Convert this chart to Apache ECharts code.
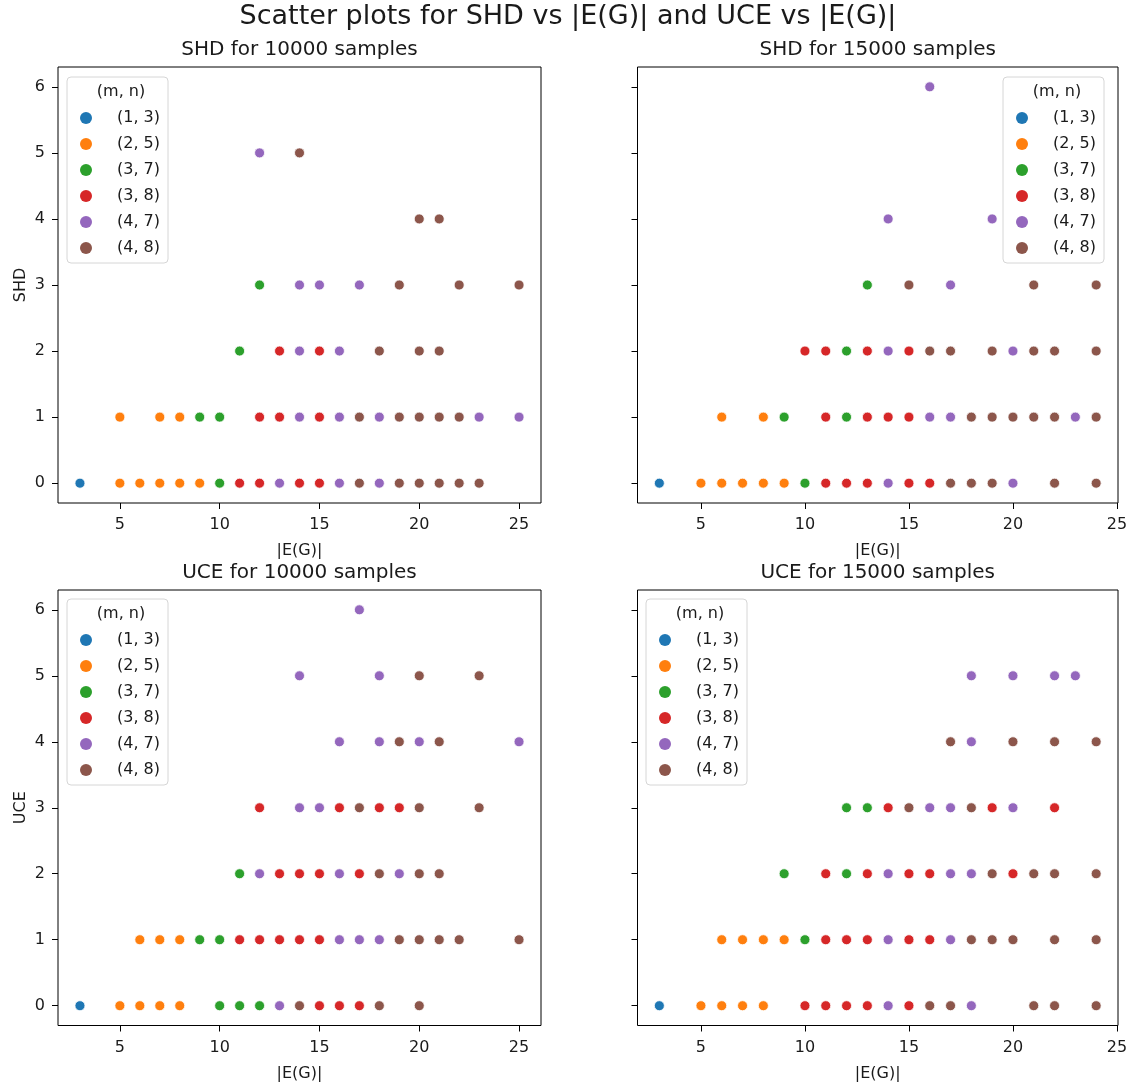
<!DOCTYPE html>
<html><head><meta charset="utf-8">
<script src="https://cdn.jsdelivr.net/npm/echarts@6/dist/echarts.min.js"></script>
<style>html,body{margin:0;padding:0;background:#fff}#c{width:1136px;height:1087px}</style>
</head><body><div id="c"></div>
<script>
// groups (m, n) and their colours
const groups = ['(1, 3)', '(2, 5)', '(3, 7)', '(3, 8)', '(4, 7)', '(4, 8)'];
const colors = ['#1f77b4', '#ff7f0e', '#2ca02c', '#d62728', '#9467bd', '#8c564b'];
const xTicks = [5, 10, 15, 20, 25];
const yTicks = [0, 1, 2, 3, 4, 5, 6];

// points: [|E(G)|, value, group index]
const shd10000 = [
  [3,0,0],[5,0,1],[6,0,1],[7,0,1],[8,0,1],[9,0,1],[10,0,2],[11,0,3],[12,0,3],[13,0,4],[14,0,3],[15,0,3],[16,0,4],[17,0,5],[18,0,4],[19,0,5],[20,0,5],[21,0,5],[22,0,5],[23,0,5],
  [5,1,1],[7,1,1],[8,1,1],[9,1,2],[10,1,2],[12,1,3],[13,1,3],[14,1,4],[15,1,3],[16,1,4],[17,1,5],[18,1,4],[19,1,5],[20,1,5],[21,1,5],[22,1,5],[23,1,4],[25,1,4],
  [11,2,2],[13,2,3],[14,2,4],[15,2,3],[16,2,4],[18,2,5],[20,2,5],[21,2,5],
  [12,3,2],[14,3,4],[15,3,4],[17,3,4],[19,3,5],[22,3,5],[25,3,5],
  [20,4,5],[21,4,5],
  [12,5,4],[14,5,5]
];
const shd15000 = [
  [3,0,0],[5,0,1],[6,0,1],[7,0,1],[8,0,1],[9,0,1],[10,0,2],[11,0,3],[12,0,3],[13,0,3],[14,0,4],[15,0,3],[16,0,3],[17,0,5],[18,0,5],[19,0,5],[20,0,4],[22,0,5],[24,0,5],
  [6,1,1],[8,1,1],[9,1,2],[11,1,3],[12,1,2],[13,1,3],[14,1,3],[15,1,3],[16,1,4],[17,1,4],[18,1,5],[19,1,5],[20,1,5],[21,1,5],[22,1,5],[23,1,4],[24,1,5],
  [10,2,3],[11,2,3],[12,2,2],[13,2,3],[14,2,4],[15,2,3],[16,2,5],[17,2,5],[19,2,5],[20,2,4],[21,2,5],[22,2,5],[24,2,5],
  [13,3,2],[15,3,5],[17,3,4],[21,3,5],[24,3,5],
  [14,4,4],[19,4,4],
  [16,6,4]
];
const uce10000 = [
  [3,0,0],[5,0,1],[6,0,1],[7,0,1],[8,0,1],[10,0,2],[11,0,2],[12,0,2],[13,0,4],[14,0,5],[15,0,3],[16,0,3],[17,0,3],[18,0,5],[20,0,5],
  [6,1,1],[7,1,1],[8,1,1],[9,1,2],[10,1,2],[11,1,3],[12,1,3],[13,1,3],[14,1,3],[15,1,3],[16,1,4],[17,1,4],[18,1,4],[19,1,5],[20,1,5],[21,1,5],[22,1,5],[25,1,5],
  [11,2,2],[12,2,4],[13,2,3],[14,2,3],[15,2,3],[16,2,4],[17,2,3],[18,2,5],[19,2,4],[20,2,5],[21,2,5],
  [12,3,3],[14,3,4],[15,3,4],[16,3,3],[17,3,5],[18,3,3],[19,3,3],[20,3,5],[23,3,5],
  [16,4,4],[18,4,4],[19,4,5],[20,4,4],[21,4,5],[25,4,4],
  [14,5,4],[18,5,4],[20,5,5],[23,5,5],
  [17,6,4]
];
const uce15000 = [
  [3,0,0],[5,0,1],[6,0,1],[7,0,1],[8,0,1],[10,0,3],[11,0,3],[12,0,3],[13,0,3],[14,0,4],[15,0,3],[16,0,5],[17,0,5],[18,0,4],[21,0,5],[22,0,5],[24,0,5],
  [6,1,1],[7,1,1],[8,1,1],[9,1,1],[10,1,2],[11,1,3],[12,1,3],[13,1,3],[14,1,4],[15,1,3],[16,1,3],[17,1,4],[18,1,5],[19,1,5],[20,1,5],[22,1,5],[24,1,5],
  [9,2,2],[11,2,3],[12,2,2],[13,2,3],[14,2,4],[15,2,3],[16,2,3],[17,2,4],[18,2,4],[19,2,5],[20,2,3],[21,2,5],[22,2,5],[24,2,5],
  [12,3,2],[13,3,2],[14,3,3],[15,3,5],[16,3,4],[17,3,4],[18,3,5],[19,3,3],[20,3,4],[22,3,3],
  [17,4,5],[18,4,4],[20,4,5],[22,4,5],[24,4,5],
  [18,5,4],[20,5,4],[22,5,4],[23,5,4]
];

const panels = [
  { data: shd10000, title: 'SHD for 10000 samples', yName: 'SHD' },
  { data: shd15000, title: 'SHD for 15000 samples', yName: '' },
  { data: uce10000, title: 'UCE for 10000 samples', yName: 'UCE' },
  { data: uce15000, title: 'UCE for 15000 samples', yName: '' }
];

const FONT = 'DejaVu Sans';
const TXT = '#1a1a1a';
const grids = [
  { left: 58, top: 67, width: 483, height: 436 },
  { left: 637.5, top: 67, width: 480.5, height: 436 },
  { left: 58, top: 590, width: 483, height: 435.5 },
  { left: 637.5, top: 590, width: 480.5, height: 435.5 }
];
const xRange = [[1.9, 26.1], [1.95, 25.05], [1.9, 26.1], [1.95, 25.05]];
const legendPos = [
  { left: 67, top: 77 }, { left: 1003, top: 77 }, { left: 67, top: 599 }, { left: 646, top: 599 }
];

const option = {
  backgroundColor: '#fff',
  animation: false,
  grid: grids.map(g => Object.assign({ show: true, borderColor: '#000', borderWidth: 1, backgroundColor: 'transparent', containLabel: false }, g)),
  xAxis: panels.map((p, i) => ({
    type: 'value', gridIndex: i, min: xRange[i][0], max: xRange[i][1],
    name: '|E(G)|', nameLocation: 'middle', nameGap: 40,
    nameTextStyle: { fontFamily: FONT, fontSize: 16, color: TXT },
    axisLine: { show: false, onZero: false },
    axisTick: { show: true, length: 6, lineStyle: { color: '#000', width: 1 }, customValues: xTicks },
    axisLabel: { show: true, margin: 14, fontFamily: FONT, fontSize: 16, color: TXT, customValues: xTicks },
    splitLine: { show: false }
  })),
  yAxis: panels.map((p, i) => ({
    type: 'value', gridIndex: i, min: -0.3, max: 6.3,
    name: p.yName, nameLocation: 'middle', nameGap: 29,
    nameTextStyle: { fontFamily: FONT, fontSize: 16, color: TXT },
    axisLine: { show: false, onZero: false },
    axisTick: { show: true, length: 6, lineStyle: { color: '#000', width: 1 }, customValues: yTicks },
    axisLabel: { show: i % 2 === 0, margin: 13, fontFamily: FONT, fontSize: 16, color: TXT, customValues: yTicks },
    splitLine: { show: false }
  })),
  legend: legendPos.map(pos => ({
    left: pos.left, top: pos.top, orient: 'vertical',
    data: groups,
    padding: [33, 8, 7, 13],
    itemWidth: 24, itemHeight: 12, itemGap: 10,
    backgroundColor: 'rgba(255,255,255,0.8)', borderColor: '#d6d6d6', borderWidth: 1, borderRadius: 4,
    itemStyle: { borderWidth: 0 },
    textStyle: { fontFamily: FONT, fontSize: 16, color: TXT, lineHeight: 16, padding: [0, 0, 0, 14] },
    selectedMode: false, z: 10
  })),
  graphic: [
    { type: 'text', x: 568, y: 17, style: { text: 'Scatter plots for SHD vs |E(G)| and UCE vs |E(G)|', font: '27px "DejaVu Sans"', fill: TXT, align: 'center', verticalAlign: 'middle' } },
    ...panels.map((p, i) => ({
      type: 'text', x: grids[i].left + grids[i].width / 2, y: i < 2 ? 50 : 573,
      style: { text: p.title, font: '20px "DejaVu Sans"', fill: TXT, align: 'center', verticalAlign: 'middle' }
    })),
    ...legendPos.map(pos => ({
      type: 'text', x: pos.left + 54, y: pos.top + 15, z: 100,
      style: { text: '(m, n)', font: '16px "DejaVu Sans"', fill: TXT, align: 'center', verticalAlign: 'middle' }
    }))
  ],
  series: []
};

panels.forEach((p, i) => {
  groups.forEach((g, gi) => {
    option.series.push({
      type: 'scatter', name: g, xAxisIndex: i, yAxisIndex: i,
      data: p.data.filter(d => d[2] === gi).map(d => [d[0], d[1]]),
      symbol: 'circle', symbolSize: 10,
      itemStyle: { color: colors[gi], borderColor: '#fff', borderWidth: 0.8, opacity: 1 },
      emphasis: { disabled: true }
    });
  });
});

const chart = echarts.init(document.getElementById('c'));
chart.setOption(option);
</script>
</body></html>
